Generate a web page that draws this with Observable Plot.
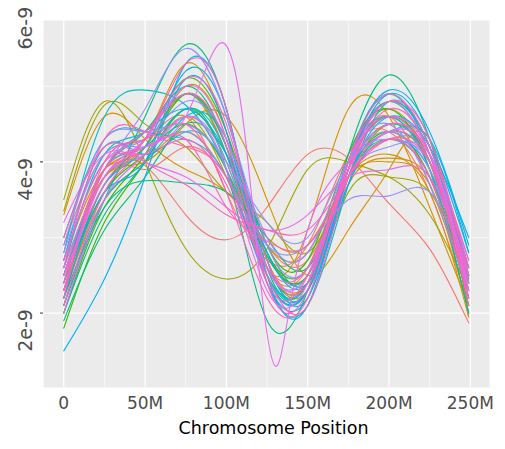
<!DOCTYPE html>
<html>
<head>
<meta charset="utf-8">
<script src="https://cdn.jsdelivr.net/npm/d3@7"></script>
<script src="https://cdn.jsdelivr.net/npm/@observablehq/plot@0.6"></script>
<style>
  html, body { margin: 0; padding: 0; background: #ffffff; }
  #chart svg { display: block; }
</style>
</head>
<body>
<div id="chart"></div>
<script>
// ---- Data (values in units of 1e-9; positions in Mb) ----
const positionsM = [0, 25, 50, 75, 100, 125, 150, 175, 200, 225, 249];

const salmon = [
  [2.5, 3.8, 3.95, 3.3, 2.97, 3.4, 4.1, 4.05, 3.45, 2.85, 1.87],
  [2.2, 3.6, 4.2, 4.9, 4.1, 2.6, 2.6, 4.0, 4.6, 3.7, 2.3],
  [2.9, 4.1, 4.3, 4.6, 3.6, 2.7, 2.9, 4.1, 4.4, 3.6, 2.1],
  [2.4, 3.9, 3.9, 4.2, 3.8, 2.9, 2.7, 3.8, 4.3, 4.1, 2.5]
];
const orange = [
  [3.3, 4.6, 4.3, 3.9, 3.6, 3.0, 2.9, 3.8, 4.1, 3.6, 1.95],
  [2.6, 3.8, 4.0, 4.5, 4.6, 3.5, 2.5, 3.1, 3.9, 4.3, 1.95],
  [2.3, 3.8, 4.2, 5.0, 4.3, 2.6, 3.1, 4.7, 4.6, 3.4, 2.1],
  [2.7, 3.9, 4.3, 5.3, 4.4, 2.7, 2.4, 3.7, 4.05, 3.8, 2.6],
  [2.3, 3.5, 4.0, 4.4, 3.8, 2.9, 2.8, 3.8, 4.0, 3.7, 2.0]
];
const olive = [
  [3.5, 4.8, 4.0, 2.85, 2.45, 2.85, 3.9, 4.0, 3.8, 3.3, 2.3],
  [3.35, 4.75, 4.5, 4.2, 3.6, 3.2, 2.8, 3.8, 4.5, 4.0, 2.3],
  [2.2, 3.7, 4.2, 4.9, 4.1, 2.8, 2.5, 4.0, 4.7, 4.0, 2.3],
  [2.5, 3.8, 4.1, 4.6, 3.8, 2.6, 2.3, 3.6, 3.8, 3.6, 2.5]
];
const green = [
  [1.8, 3.2, 4.0, 4.7, 4.0, 2.6, 2.4, 3.9, 4.6, 4.0, 2.1],
  [2.0, 3.4, 4.1, 4.9, 4.2, 2.8, 2.6, 4.0, 4.8, 4.2, 2.5],
  [2.4, 3.6, 4.1, 4.5, 3.9, 2.75, 2.5, 3.8, 4.4, 3.8, 2.2],
  [2.3, 3.7, 4.3, 5.1, 4.4, 2.9, 2.7, 4.1, 4.7, 3.9, 2.0]
];
const teaGreen = [
  [2.1, 3.5, 4.6, 5.55, 4.7, 2.6, 2.4, 4.0, 4.8, 4.1, 2.4],
  [2.0, 3.3, 4.0, 4.7, 3.9, 1.9, 2.3, 4.1, 5.15, 4.3, 2.45],
  [2.2, 3.4, 3.75, 3.72, 3.6, 3.0, 2.6, 3.8, 4.3, 3.8, 2.2],
  [2.5, 3.9, 4.4, 5.0, 4.2, 2.5, 2.3, 3.9, 4.6, 3.9, 2.2],
  [1.9, 3.1, 3.8, 4.5, 4.1, 2.9, 2.4, 3.7, 4.4, 4.0, 2.6]
];
const teal = [
  [2.8, 4.6, 4.95, 4.75, 3.9, 2.5, 2.3, 3.8, 4.5, 4.0, 2.4],
  [2.4, 3.9, 4.2, 4.7, 4.1, 2.4, 2.1, 3.7, 4.8, 4.2, 2.5],
  [2.6, 4.1, 4.4, 4.9, 4.2, 2.8, 2.5, 4.0, 4.6, 3.9, 2.0],
  [2.1, 3.5, 4.0, 4.6, 4.3, 2.7, 2.2, 3.8, 4.4, 4.3, 2.8],
  [3.0, 4.3, 4.4, 4.3, 3.8, 2.5, 2.4, 4.0, 4.9, 4.1, 2.4]
];
const skyBlue = [
  [1.5, 2.45, 3.8, 5.1, 4.4, 2.5, 2.3, 3.9, 4.9, 4.3, 2.8],
  [2.3, 3.7, 4.2, 5.2, 4.6, 2.7, 2.3, 4.0, 4.95, 4.4, 2.9],
  [2.5, 3.9, 4.4, 4.7, 4.1, 2.8, 2.4, 3.8, 4.6, 4.2, 3.0],
  [2.7, 4.2, 4.1, 4.4, 3.9, 2.4, 2.2, 3.7, 4.3, 3.9, 2.4],
  [2.2, 3.6, 4.0, 5.3, 4.7, 2.5, 2.1, 3.9, 4.8, 4.2, 2.6]
];
const lavender = [
  [2.6, 3.9, 4.7, 5.5, 4.6, 2.9, 2.6, 3.9, 4.4, 3.9, 2.5],
  [2.9, 4.3, 4.4, 4.5, 4.0, 3.2, 3.0, 4.0, 4.3, 4.0, 2.7],
  [2.4, 3.8, 4.1, 4.6, 4.0, 2.6, 2.5, 3.8, 4.2, 4.1, 2.6],
  [2.7, 4.0, 4.3, 4.8, 4.3, 3.0, 2.8, 4.0, 4.5, 3.7, 2.3],
  [2.8, 4.1, 4.2, 4.4, 3.8, 2.9, 2.9, 3.5, 3.55, 3.6, 2.5]
];
const magenta = [
  [3.2, 4.1, 4.0, 3.8, 3.4, 3.1, 3.3, 3.8, 3.9, 3.8, 2.4],
  [2.3, 3.8, 4.3, 5.0, 4.3, 2.6, 2.5, 3.9, 4.8, 4.1, 2.5],
  [2.0, 3.5, 4.1, 4.6, 3.9, 2.3, 2.4, 4.0, 4.6, 4.1, 2.2]
];
const pink = [
  [2.4, 3.8, 4.3, 5.3, 4.7, 2.4, 2.3, 4.0, 4.8, 4.3, 2.5],
  [2.2, 4.0, 4.3, 4.5, 3.6, 2.2, 2.2, 3.9, 4.6, 4.0, 2.3],
  [3.0, 4.2, 4.0, 3.7, 3.3, 3.1, 3.1, 3.8, 4.3, 4.0, 2.6],
  [2.6, 4.3, 4.4, 4.2, 3.8, 2.5, 2.1, 3.8, 4.7, 4.1, 2.1],
  [2.1, 3.6, 4.3, 5.1, 4.5, 2.7, 2.4, 4.0, 4.9, 4.2, 2.7],
  [2.5, 3.9, 4.2, 4.3, 3.4, 2.95, 2.9, 3.8, 4.3, 3.8, 2.2],
  [2.3, 3.9, 4.4, 4.9, 4.2, 2.4, 2.5, 3.9, 4.5, 4.1, 2.4],
  [2.7, 4.0, 4.1, 4.3, 3.7, 2.6, 2.6, 3.8, 4.4, 4.0, 2.3]
];
// one magenta series with a sharp spike and dip, read at its own positions
const magentaSpikePositionsM = [0, 25, 50, 75, 96, 110, 120, 130, 140, 155, 175, 200, 225, 249];
const magentaSpike = [2.5, 3.7, 4.2, 4.6, 5.57, 4.6, 2.6, 1.3, 2.2, 3.4, 4.0, 4.4, 4.1, 2.3];

const groupNames = ["salmon", "orange", "olive", "green", "teaGreen", "teal", "skyBlue", "lavender", "magenta", "pink"];
const groupColors = ["#F8766D", "#D89000", "#A3A500", "#39B600", "#00BF7D", "#00BFC4", "#00B0F6", "#9590FF", "#E76BF3", "#FF62BC"];

const xTicksM = [0, 50, 100, 150, 200, 250];
const xTickLabels = ["0", "50M", "100M", "150M", "200M", "250M"];
const xMinorM = [25, 75, 125, 175, 225];
const yTicks = [2e-9, 4e-9, 6e-9];
const yTickLabels = ["2e-9", "4e-9", "6e-9"];
const yMinor = [3e-9, 5e-9];
const xTitle = "Chromosome Position";

// ---- Build table ----
const groupData = {salmon, orange, olive, green, teaGreen, teal, skyBlue, lavender, magenta, pink};
const rows = [];
for (const g of groupNames) {
  groupData[g].forEach((vals, i) => {
    vals.forEach((v, k) => rows.push({id: `${g}-${i}`, group: g, pos: positionsM[k] * 1e6, value: v * 1e-9}));
  });
}
magentaSpike.forEach((v, k) => rows.push({id: "magenta-spike", group: "magenta", pos: magentaSpikePositionsM[k] * 1e6, value: v * 1e-9}));

const font = "DejaVu Sans, sans-serif";
const yTop = 5.871e-9;

const chart = Plot.plot({
  width: 505,
  height: 449,
  marginLeft: 43,
  marginRight: 16,
  marginTop: 20,
  marginBottom: 62,
  style: {fontFamily: font, background: "#ffffff"},
  x: {domain: [-12.47e6, 261.8e6], axis: null},
  y: {domain: [1.015e-9, yTop], axis: null},
  color: {type: "ordinal", domain: groupNames, range: groupColors},
  marks: [
    Plot.frame({fill: "#EBEBEB", stroke: null}),
    Plot.gridX(xMinorM.map(d => d * 1e6), {stroke: "#ffffff", strokeOpacity: 1, strokeWidth: 0.6}),
    Plot.gridY(yMinor, {stroke: "#ffffff", strokeOpacity: 1, strokeWidth: 0.6}),
    Plot.gridX(xTicksM.map(d => d * 1e6), {stroke: "#ffffff", strokeOpacity: 1, strokeWidth: 1.2}),
    Plot.gridY(yTicks.filter(d => d < yTop), {stroke: "#ffffff", strokeOpacity: 1, strokeWidth: 1.2}),
    Plot.line(rows, {x: "pos", y: "value", z: "id", stroke: "group", curve: "natural", strokeWidth: 1.1, clip: true}),
    Plot.axisY(yTicks.filter(d => d < yTop), {tickSize: 3, stroke: "#333333", tickFormat: () => "", label: null}),
    Plot.text(yTicks, {
      y: d => d, text: (d, i) => yTickLabels[i], frameAnchor: "left",
      rotate: -90, textAnchor: "end", lineAnchor: "bottom",
      dx: -12, dy: -4, fontSize: 19, fill: "#4D4D4D"
    }),
    Plot.text(xTicksM, {
      x: d => d * 1e6, text: (d, i) => xTickLabels[i], frameAnchor: "bottom",
      lineAnchor: "top", dy: 9, fontSize: 17, fill: "#4D4D4D"
    }),
    Plot.text([xTitle], {
      text: d => d, frameAnchor: "bottom", lineAnchor: "top", dy: 34, dx: 7,
      fontSize: 17.5, fill: "#000000"
    })
  ]
});
document.getElementById("chart").append(chart);
</script>
</body>
</html>
